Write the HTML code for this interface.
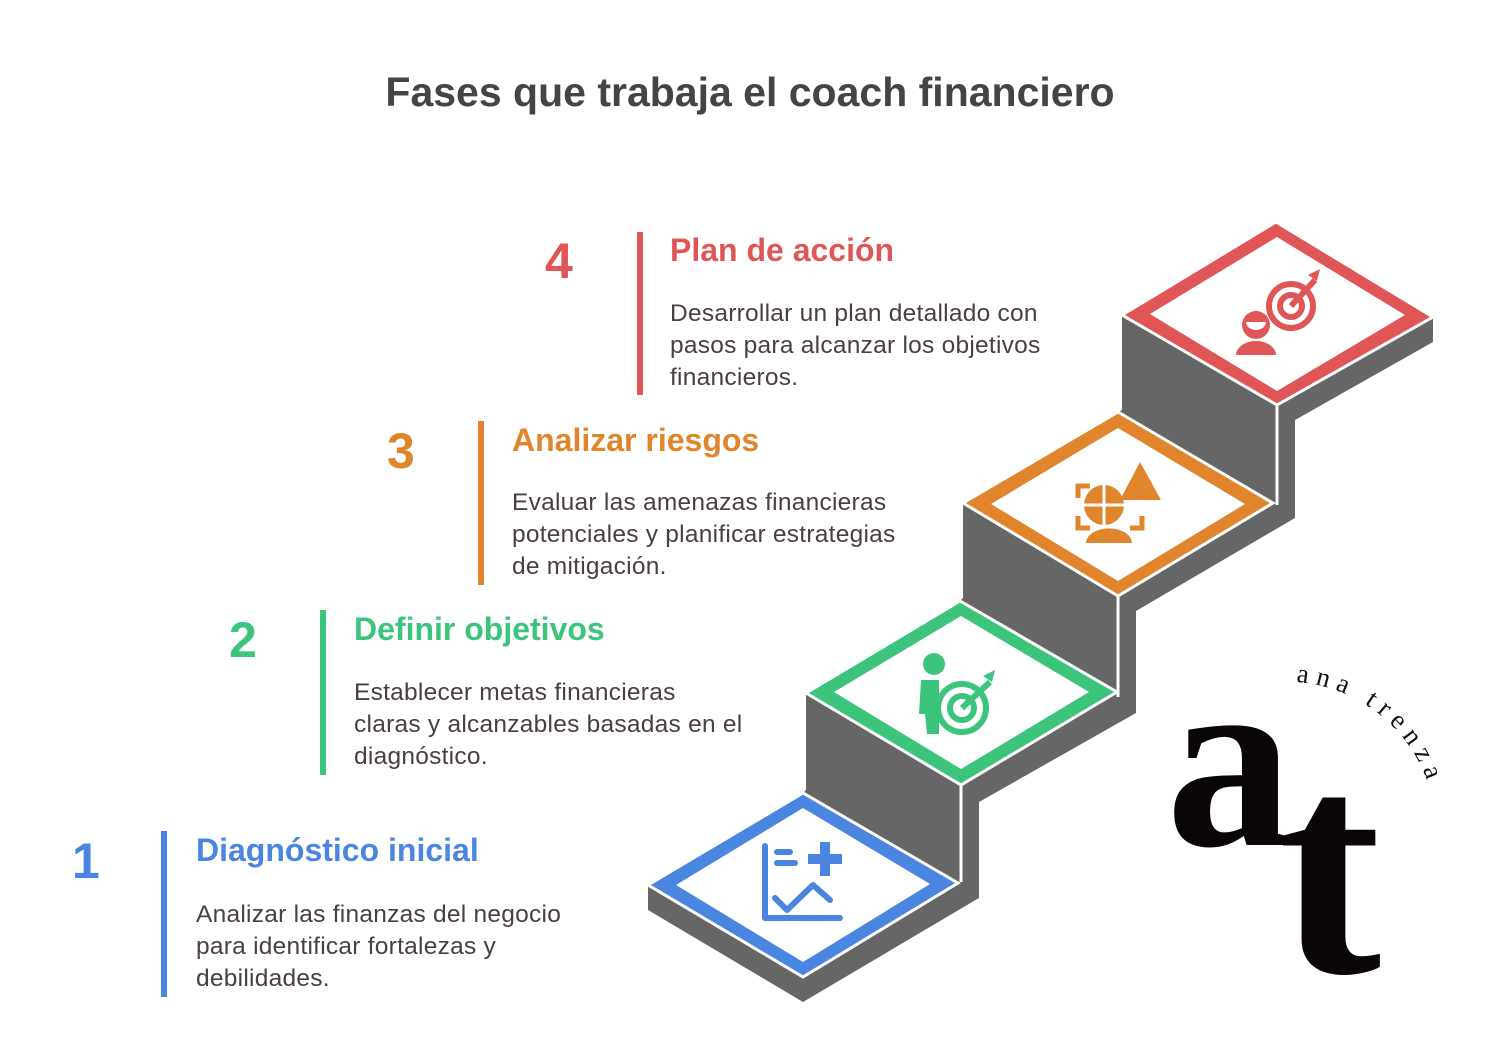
<!DOCTYPE html>
<html><head><meta charset="utf-8"><style>
body{margin:0;background:#fff;}
svg{display:block}
.t{font-family:"Liberation Sans",sans-serif;}
.b{font-size:24.5px;letter-spacing:0.25px;fill:#4a3f3f;}
.h{font-size:32px;font-weight:bold;}
.n{font-size:50px;font-weight:bold;}
</style></head><body>
<svg width="1500" height="1057" viewBox="0 0 1500 1057" xmlns="http://www.w3.org/2000/svg">
<rect width="1500" height="1057" fill="#fff"/>
<text class="t" x="750" y="106" text-anchor="middle" font-size="41" font-weight="bold" fill="#444">Fases que trabaja el coach financiero</text>

<polygon fill="#666" points="1276,222 1433,317 1433,342 1295,420 1295,518 1136,611 1136,713 979,802 979,898 803,1002 648,910 648,885 803,793 806,790 806,693 960,601 963,598 963,503 1118,412 1122,410 1122,315"/>
<g stroke="#fff" stroke-width="3">
<line x1="961" y1="786" x2="961" y2="882"/>
<line x1="1118" y1="597" x2="1118" y2="697"/>
<line x1="1277" y1="406" x2="1277" y2="505"/>
</g>

<g stroke="#fff" stroke-width="3">
<polygon fill="#e05555" points="1122,315 1276,222 1433,317 1277,405"/>
<polygon fill="#e0852c" points="963,503 1118,412 1273,503 1118,596"/>
<polygon fill="#3cc47c" points="806,693 960,601 1117,692 961,785"/>
<polygon fill="#4a86e0" points="648,885 803,793 958,883 803,977"/>
</g>
<g fill="#fff">
<polygon points="1150,314 1277,237 1405,315 1277,391"/>
<polygon points="991,504 1118,428 1245,504 1118,581"/>
<polygon points="834,692 961,616 1089,692 961,769"/>
<polygon points="676,885 803,808 930,884 803,962"/>
</g>

<g fill="none" stroke="#4a86e0" stroke-width="6" stroke-linecap="round" stroke-linejoin="round">
<polyline points="765,846 765,918 840,918"/>
<line x1="777" y1="852" x2="790" y2="852"/><line x1="777" y1="863" x2="795" y2="863"/>
<polyline points="775,898 787,910 813,885 830,900"/>
</g>
<path fill="#4a86e0" d="M820,842h10v12h12v10h-12v12h-10v-12h-12v-10h12z"/>

<g fill="#3cc47c">
<circle cx="934" cy="664" r="11"/>
<path d="M921,680h18v54h-12l-2-20h-6z"/>
</g>
<g fill="none" stroke="#3cc47c" stroke-width="6">
<circle cx="962" cy="708" r="24"/><circle cx="962" cy="708" r="12"/>
<line x1="962" y1="708" x2="990" y2="682"/>
</g>
<path fill="#3cc47c" d="M983,676l12-6-3,12z"/>

<g fill="none" stroke="#e0852c" stroke-width="5">
<path d="M1090,486h-12v12M1078,516v12h12M1130,528h12v-12"/>
</g>
<circle cx="1104" cy="505" r="20" fill="#e0852c"/>
<path d="M1104,485v40M1084,505h40" stroke="#fff" stroke-width="3"/>
<path fill="#e0852c" d="M1120,500l20-38 21,38z"/>
<path fill="#e0852c" d="M1086,543a22,14 0 0 1 46,0z"/>

<g fill="none" stroke="#e05555" stroke-width="6">
<circle cx="1291" cy="306" r="22"/><circle cx="1291" cy="306" r="11"/>
<line x1="1291" y1="306" x2="1315" y2="280"/>
</g>
<path fill="#e05555" d="M1308,275l12-6-3,12z"/>
<circle cx="1256" cy="325" r="14" fill="#e05555"/>
<path fill="#fff" d="M1246,322a10,8 0 0 0 20,0z"/>
<path fill="#e05555" d="M1236,355a20,14 0 0 1 40,0z"/>

<g class="t">
<rect x="637" y="232" width="6" height="163" fill="#e05555"/>
<text class="n" x="545" y="278" fill="#e05555">4</text>
<text class="h" x="670" y="261" fill="#e05555">Plan de acción</text>
<text class="b" x="670" y="321">Desarrollar un plan detallado con</text>
<text class="b" x="670" y="353">pasos para alcanzar los objetivos</text>
<text class="b" x="670" y="385">financieros.</text>

<rect x="478" y="421" width="6" height="164" fill="#e0852c"/>
<text class="n" x="387" y="468" fill="#e0852c">3</text>
<text class="h" x="512" y="451" fill="#e0852c">Analizar riesgos</text>
<text class="b" x="512" y="510">Evaluar las amenazas financieras</text>
<text class="b" x="512" y="542">potenciales y planificar estrategias</text>
<text class="b" x="512" y="574">de mitigación.</text>

<rect x="320" y="610" width="6" height="165" fill="#3cc47c"/>
<text class="n" x="229" y="657" fill="#3cc47c">2</text>
<text class="h" x="354" y="640" fill="#3cc47c">Definir objetivos</text>
<text class="b" x="354" y="700">Establecer metas financieras</text>
<text class="b" x="354" y="732">claras y alcanzables basadas en el</text>
<text class="b" x="354" y="764">diagnóstico.</text>

<rect x="161" y="831" width="6" height="166" fill="#4a86e0"/>
<text class="n" x="72" y="878" fill="#4a86e0">1</text>
<text class="h" x="196" y="861" fill="#4a86e0">Diagnóstico inicial</text>
<text class="b" x="196" y="922">Analizar las finanzas del negocio</text>
<text class="b" x="196" y="954">para identificar fortalezas y</text>
<text class="b" x="196" y="986">debilidades.</text>
</g>

<defs><path id="arc" d="M1296,682 A150,150 0 0 1 1436,830"/></defs>
<text font-family="Liberation Serif,serif" font-size="27" letter-spacing="7" fill="#111"><textPath href="#arc">ana trenza</textPath></text>
<text x="1166" y="845" font-family="Liberation Serif,serif" font-size="255" font-weight="bold" fill="#0a0606">a</text>
<text x="1278" y="972" font-family="Liberation Serif,serif" font-size="310" font-weight="bold" fill="#0a0606">t</text>
</svg>
</body></html>
